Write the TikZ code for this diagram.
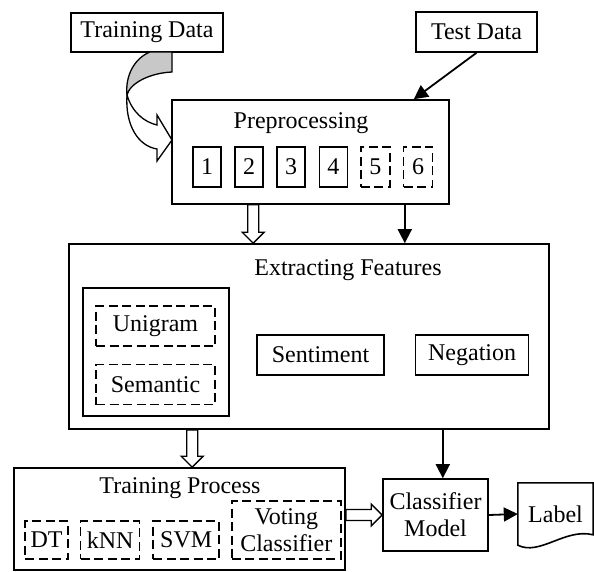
\documentclass[tikz,border=0pt]{standalone}
\usepackage{fontspec}
\setmainfont{Liberation Serif}
\usetikzlibrary{arrows.meta, positioning, calc}
\definecolor{ribbon}{RGB}{200, 200, 200}

\newcommand{\hollowarrow}[2]{%
  \coordinate (hb) at ($(#2)!11pt!(#1)$);
  \draw[line width=1.4pt, fill=white, line join=miter]
    ($(#1)!5.5pt!90:(#2)$) -- ($(hb)!5.5pt!90:(#2)$) -- ($(hb)!11pt!90:(#2)$) -- (#2)
    -- ($(hb)!11pt!-90:(#2)$) -- ($(hb)!5.5pt!-90:(#2)$) -- ($(#1)!5.5pt!-90:(#2)$) -- cycle;}

\begin{document}
\begin{tikzpicture}[
            x=1pt, y=-1pt,
            every node/.style={font=\fontsize{24}{27}\selectfont},
            box/.style={draw, line width=1.6pt, inner sep=0pt, minimum height=40pt, align=center},
            dbox/.style={box, dash pattern=on 9pt off 4.5pt},
            frame/.style={draw, line width=1.6pt, inner sep=0pt},
            arr/.style={line width=1.8pt, -{Triangle[length=14pt, width=14pt]}}
        ]
            \useasboundingbox (0,0) rectangle (594,572);

            \node[box, minimum width=152pt, minimum height=39pt] (train) at (147,32.5) {Training Data};
            \node[box, minimum width=121pt] (test) at (476.5,32) {Test Data};

            \node[frame, minimum width=277pt, minimum height=104pt] (pre) at (310.5,152) {};
            \node (pretitle) at (301,123) {Preprocessing};
            \node[box, minimum width=28pt] (s1) at (207,167) {1};
            \node[box, minimum width=28pt, right=12.5pt of s1] (s2) {2};
            \node[box, minimum width=28pt, right=12.5pt of s2] (s3) {3};
            \node[box, minimum width=28pt, right=12.5pt of s3] (s4) {4};
            \node[dbox, minimum width=29pt, right=12pt of s4] (s5) {5};
            \node[dbox, minimum width=29pt, right=12pt of s5] (s6) {6};

            \node[frame, minimum width=480pt, minimum height=185pt] (ext) at (309,336.5) {};
            \node (exttitle) at (348,270) {Extracting Features};
            \node[frame, minimum width=146pt, minimum height=128pt] (ngram) at (156,352) {};
            \node[dbox, minimum width=119pt] (uni) at (155.5,326) {Unigram};
            \node[dbox, minimum width=119pt, below=17pt of uni] (sem) {Semantic};
            \node[box, minimum width=127pt] (senti) at (320.5,355) {Sentiment};
            \node[box, minimum width=113pt, right=30pt of senti] (neg) {Negation};

            \node[frame, minimum width=331pt, minimum height=102pt] (proc) at (179.5,519) {};
            \node (proctitle) at (180,488) {Training Process};
            \node[dbox, minimum width=43pt, minimum height=38pt] (dt) at (46.5,540) {DT};
            \node[dbox, minimum width=59pt, minimum height=38pt, right=11pt of dt] (knn) {kNN};
            \node[dbox, minimum width=66pt, minimum height=38pt, right=12pt of knn] (svm) {SVM};
            \node[dbox, minimum width=109pt, minimum height=58pt, right=11pt of svm.south east, anchor=south west] (vote) {Voting\\Classifier};

            \node[box, minimum width=105pt, minimum height=72pt] (clf) at (435.5,515) {Classifier\\Model};
            \node[minimum width=75pt, minimum height=62pt, inner sep=0pt] (label) at (555.5,514) {Label};
            \draw[line width=1.6pt, line join=miter] (label.south west) -- (label.north west) -- (label.north east) -- ++(0,52)
                .. controls +(-28,-7) and +(22,11) .. (label.south west) -- cycle;

            \draw[arr] (test.south) -- ($(pre.north east)+(-36,0)$);

            \coordinate (p1) at ($(pre.south west)+(82,0)$);
            \coordinate (e1) at (p1 |- ext.north);
            \hollowarrow{p1}{e1}
            \coordinate (p2) at ($(pre.south east)+(-45,0)$);
            \draw[arr] (p2) -- (p2 |- ext.north);

            \coordinate (e2) at ($(ext.south west)+(124,0)$);
            \coordinate (t1) at (e2 |- proc.north);
            \hollowarrow{e2}{t1}
            \coordinate (e3) at ($(ext.south east)+(-107,0)$);
            \draw[arr] (e3) -- (e3 |- clf.north);

            \coordinate (t2) at (proc.east |- clf.west);
            \hollowarrow{t2}{clf.west}
            \draw[arr] (clf.east) -- (label.west);

            \draw[line width=1.3pt, fill=ribbon] (150,52) -- (172,52) -- (172,72)
                .. controls (150,73) and (130,83) .. (127,95)
                .. controls (125,75) and (135,58) .. (150,52) -- cycle;
            \draw[line width=1.3pt, fill=white, line join=miter] (127,95)
                .. controls (132,112) and (144,122) .. (157,125) -- (157,115) -- (172,140) -- (157,161) -- (157,149)
                .. controls (138,146) and (125,125) .. (127,95) -- cycle;
        \end{tikzpicture}
\end{document}
